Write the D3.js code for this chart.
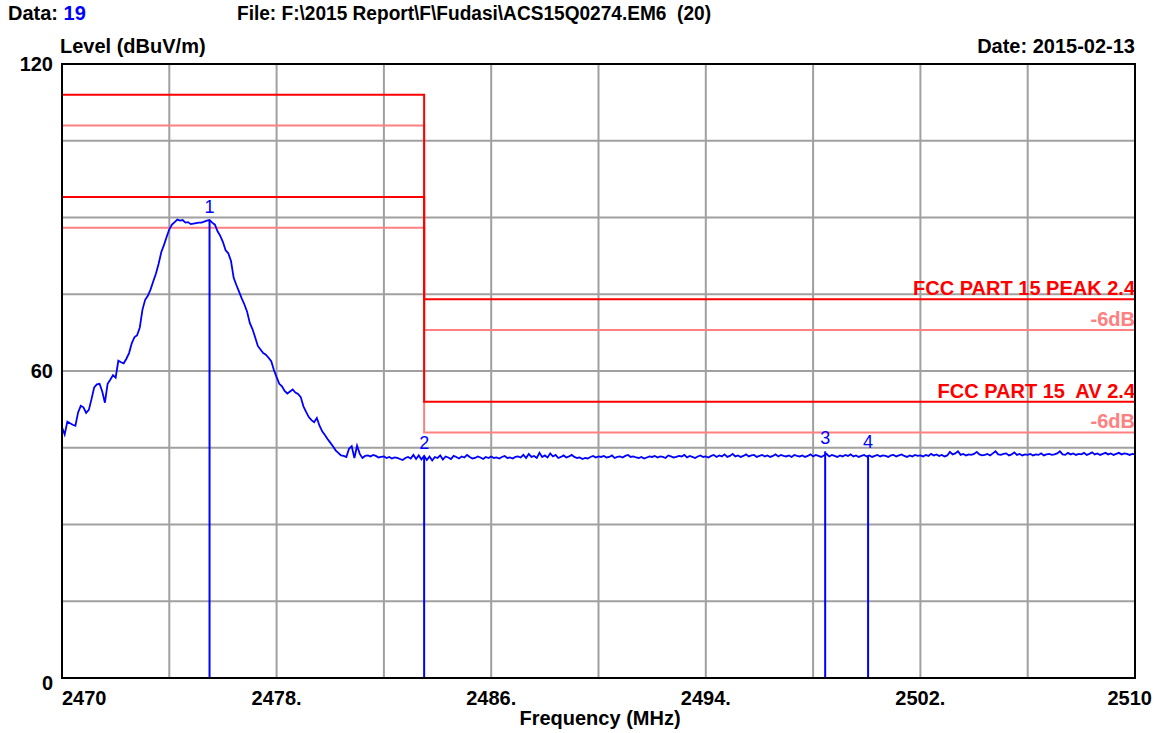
<!DOCTYPE html>
<html><head><meta charset="utf-8">
<script src="https://cdn.jsdelivr.net/npm/d3@7"></script>
<style>
html,body{margin:0;padding:0;background:#fff;}
text{font-family:"Liberation Sans",Arial,sans-serif;}
</style></head>
<body><svg id="c" width="1163" height="733"></svg>
<script>
// ---- data ----
const freqStart = 2470, freqStep = 0.1;
const traceValues = [
49.0,47.6,50.1,49.8,49.5,49.3,51.9,53.2,52.9,51.8,
52.4,54.5,56.8,57.4,57.5,56.0,53.8,57.5,58.3,59.2,
58.7,62.0,61.7,61.5,62.4,63.5,65.4,66.6,67.0,68.5,
72.0,73.9,74.7,75.9,77.5,79.0,80.9,83.2,84.6,86.2,
87.7,88.6,89.1,89.6,89.4,89.5,89.0,89.1,88.7,88.8,
88.9,89.0,89.0,89.2,89.4,89.5,89.0,88.6,87.3,86.4,
85.2,83.6,83.0,81.5,78.2,76.8,75.5,74.2,73.0,71.6,
69.4,68.2,66.6,64.9,64.2,63.5,63.2,62.6,61.9,60.2,
58.8,57.5,57.0,56.1,55.6,56.0,56.4,55.8,55.5,54.9,
53.1,52.0,51.0,50.4,50.0,50.8,49.3,48.2,47.5,46.7,
46.0,45.3,44.5,44.0,43.5,43.4,43.2,44.8,45.3,43.0,
45.4,43.8,43.0,43.4,43.5,43.3,43.6,43.4,43.1,43.2,
43.3,43.0,43.2,42.9,43.1,43.0,42.8,42.6,43.0,43.2,
42.9,43.6,42.8,43.5,42.7,43.4,42.6,43.3,42.5,43.2,
43.0,43.5,42.7,43.3,43.1,42.8,43.4,43.2,42.9,43.3,
43.1,43.6,43.2,42.9,43.0,43.3,43.1,42.8,43.2,43.0,
43.3,43.0,43.1,42.9,43.2,43.4,43.0,43.1,42.9,43.2,
43.3,43.1,43.6,43.0,43.8,43.2,43.4,43.0,44.0,43.2,
43.5,43.1,43.9,43.3,43.6,43.0,43.2,43.5,43.1,43.3,
43.6,43.2,43.0,43.1,42.8,43.0,42.9,43.2,43.4,43.1,
43.3,43.2,43.4,43.1,43.2,43.5,43.0,43.2,43.3,43.1,
43.4,43.6,43.2,43.3,43.1,43.0,43.2,42.9,43.1,43.3,
43.2,43.4,43.1,43.3,43.2,43.0,43.5,43.3,43.1,43.2,
43.4,43.3,43.6,43.1,43.4,43.2,43.0,43.3,43.5,43.2,
43.3,43.1,43.4,43.6,43.2,43.5,43.3,43.7,43.2,43.4,
43.8,43.3,43.5,43.2,43.4,43.7,43.3,43.5,43.6,43.2,
43.4,43.6,43.3,43.5,43.2,43.4,43.7,43.3,43.6,43.4,
43.3,43.5,43.2,43.6,43.4,43.3,43.5,43.2,43.4,43.7,
43.3,43.6,43.4,43.2,43.5,43.8,43.3,43.6,43.4,43.2,
43.5,43.3,43.6,43.4,43.7,43.3,43.5,43.2,43.4,43.6,
43.3,43.5,43.2,43.4,43.6,43.3,43.5,43.4,43.2,43.5,
43.6,43.3,43.5,43.7,43.4,43.2,43.5,43.3,43.6,43.4,
43.5,43.3,43.6,43.4,43.8,43.5,43.7,43.4,43.6,43.3,
43.5,44.2,43.7,43.9,44.3,43.6,43.8,43.5,43.7,43.6,
43.8,44.2,43.7,43.5,43.6,43.8,43.5,43.9,44.3,43.7,
43.6,43.8,43.9,43.5,43.7,44.1,43.6,43.8,43.5,43.7,
43.6,43.8,43.5,43.7,43.6,43.9,43.5,43.7,43.8,43.6,
43.7,43.9,44.3,43.7,43.6,44.0,43.7,43.9,43.6,43.8,
43.7,44.0,43.6,43.8,44.1,43.7,43.9,43.6,43.8,44.0,
43.7,43.9,43.6,43.8,44.0,43.7,43.9,43.8,43.6,43.8,
43.7
];
const limitFreqs = [2470, 2483.5, 2483.5, 2510];
const peakLimit  = [114, 114, 74, 74];
const peakLimit6 = [108, 108, 68, 68];
const avLimit    = [94, 94, 54, 54];
const avLimit6   = [88, 88, 48, 48];
const markerNums  = ["1", "2", "3", "4"];
const markerFreqs = [2475.5, 2483.5, 2498.45, 2500.05];
const markerVals  = [89.5, 43.3, 44.3, 43.5];
const xTickValues = [2470, 2478, 2486, 2494, 2502, 2510];
const xTickLabels = ["2470", "2478.", "2486.", "2494.", "2502.", "2510"];
const yTickValues = [0, 60, 120];
const yTickLabels = ["0", "60", "120"];
const xGrid = [2474, 2478, 2482, 2486, 2490, 2494, 2498, 2502, 2506];
const yGrid = [15, 30, 45, 60, 75, 90, 105];

// ---- layout ----
const L = 62, R = 1135, T = 64, B = 678;
const svg = d3.select("#c");
svg.append("rect").attr("width",1163).attr("height",733).attr("fill","#fff");
const x = d3.scaleLinear().domain([2470, 2510]).range([L, R]);
const y = d3.scaleLinear().domain([0, 120]).range([B, T]);

// grid
svg.append("g").selectAll("line").data(xGrid).join("line")
  .attr("x1", d => x(d)).attr("x2", d => x(d)).attr("y1", T).attr("y2", B)
  .attr("stroke", "#a0a0a0").attr("stroke-width", 2);
svg.append("g").selectAll("line").data(yGrid).join("line")
  .attr("y1", d => y(d)).attr("y2", d => y(d)).attr("x1", L).attr("x2", R)
  .attr("stroke", "#a0a0a0").attr("stroke-width", 2);

// limit lines
const lim = vals => d3.line().x((d,i) => x(limitFreqs[i])).y(d => y(d))(vals);
[[peakLimit6,"#ff8080"],[avLimit6,"#ff8080"],[peakLimit,"#ff0000"],[avLimit,"#ff0000"]].forEach(([v,c]) => {
  svg.append("path").attr("d", lim(v)).attr("fill","none").attr("stroke",c).attr("stroke-width",2);
});

// trace
const line = d3.line().x((d,i) => x(freqStart + i*freqStep)).y(d => y(d));
svg.append("path").attr("d", line(traceValues)).attr("fill","none")
  .attr("stroke","#0000ff").attr("stroke-width",1.8).attr("stroke-linejoin","miter");

// markers
const mg = svg.append("g");
markerNums.forEach((n,i) => {
  mg.append("line").attr("x1", x(markerFreqs[i])).attr("x2", x(markerFreqs[i]))
    .attr("y1", y(markerVals[i])).attr("y2", B).attr("stroke","#0000ff").attr("stroke-width",2);
  mg.append("text").attr("x", x(markerFreqs[i])).attr("y", y(markerVals[i]) - 7)
    .attr("text-anchor","middle").attr("font-size",18).attr("fill","#0000ff").text(n);
});

// limit labels
const lab = (t, v, c) => svg.append("text").attr("x", R).attr("y", y(v) - 4)
  .attr("text-anchor","end").attr("font-size",20).attr("font-weight","bold").attr("fill",c)
  .style("white-space","pre").text(t);
lab("FCC PART 15 PEAK 2.4", peakLimit[3], "#ff0000");
lab("-6dB", peakLimit6[3], "#ff8080");
lab("FCC PART 15  AV 2.4", avLimit[3], "#ff0000");
lab("-6dB", avLimit6[3], "#ff8080");

// frame
svg.append("rect").attr("x", L).attr("y", T).attr("width", R-L).attr("height", B-T)
  .attr("fill","none").attr("stroke","#000").attr("stroke-width",2);

// axis labels
svg.append("g").selectAll("text").data(xTickValues).join("text")
  .attr("x", (d,i) => i === 0 ? x(d) : (i === xTickValues.length-1 ? x(d) + 17 : x(d)))
  .attr("y", 705)
  .attr("text-anchor", (d,i) => i === 0 ? "start" : (i === xTickValues.length-1 ? "end" : "middle"))
  .attr("font-size",20).attr("font-weight","bold").attr("fill","#000")
  .text((d,i) => xTickLabels[i]);
svg.append("g").selectAll("text").data(yTickValues).join("text")
  .attr("x", 53).attr("y", d => d === 0 ? y(d) + 12 : y(d) + 7)
  .attr("text-anchor","end").attr("font-size",20).attr("font-weight","bold").attr("fill","#000")
  .text((d,i) => yTickLabels[i]);

// titles
const t1 = svg.append("text").attr("x", 8).attr("y", 20).attr("font-size",20).attr("font-weight","bold");
t1.append("tspan").attr("fill","#000").text("Data: ");
t1.append("tspan").attr("fill","#0000ff").text("19");
svg.append("text").attr("x", 237).attr("y", 20).attr("font-size",20).attr("font-weight","bold")
  .attr("textLength", 474).attr("lengthAdjust", "spacingAndGlyphs")
  .style("white-space","pre").text("File: F:\\2015 Report\\F\\Fudasi\\ACS15Q0274.EM6  (20)");
svg.append("text").attr("x", 60).attr("y", 53).attr("font-size",20).attr("font-weight","bold").text("Level (dBuV/m)");
svg.append("text").attr("x", R).attr("y", 53).attr("text-anchor","end").attr("font-size",20).attr("font-weight","bold").text("Date: 2015-02-13");
svg.append("text").attr("x", 600).attr("y", 725).attr("text-anchor","middle").attr("font-size",20).attr("font-weight","bold").text("Frequency (MHz)");
</script></body></html>
